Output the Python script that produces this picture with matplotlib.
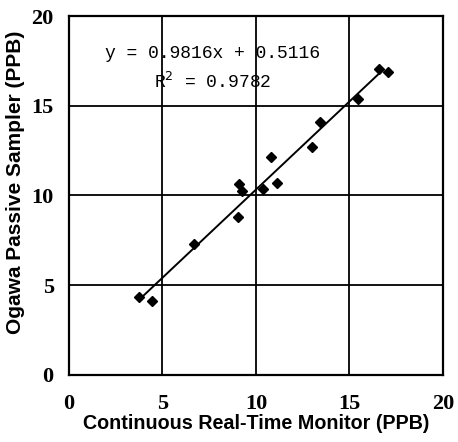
from matplotlib import pyplot as plt
import numpy as np

# Readings taken off the scanned chart
monitor = [3.76, 4.42, 6.68, 9.02, 9.09, 9.23, 10.39, 10.78, 11.1, 12.99, 13.4, 15.44, 16.6, 17.04]
passive = [4.35, 4.12, 7.28, 8.82, 10.62, 10.27, 10.36, 12.16, 10.71, 12.72, 14.08, 15.38, 17.05, 16.9]
slope, intercept, r2 = 0.9816, 0.5116, 0.9782
ticks = [0, 5, 10, 15, 20]

fig = plt.figure(figsize=(4.58, 4.42), dpi=100)
ax = fig.add_axes([0.1507, 0.1516, 0.8163, 0.8122])

ax.plot(monitor, passive, linestyle='none', marker='D', markersize=5.5,
        color='black', zorder=3)

xs = np.array([min(monitor) + 0.2, max(monitor) - 0.3])
ax.plot(xs, slope * xs + intercept, color='black', linewidth=1.4, zorder=3)

ax.set_xlim(0, 20)
ax.set_ylim(0, 20)
ax.set_xticks(ticks)
ax.set_yticks(ticks)
ax.grid(True, color='black', linewidth=1.3)
ax.tick_params(length=0, pad=14, labelsize=16)
ax.tick_params(axis='y', pad=11)
for lab in ax.get_xticklabels() + ax.get_yticklabels():
    lab.set_family('Liberation Serif')
    lab.set_fontweight('bold')
for sp in ax.spines.values():
    sp.set_linewidth(1.6)

ax.text(7.7, 17.9, "y = %.4fx + %.4f" % (slope, intercept), ha='center', va='center',
        family='Liberation Mono', fontsize=13)
ax.text(7.7, 16.3, "R$^2$ = %.4f" % r2, ha='center', va='center',
        family='Liberation Mono', fontsize=13)

ax.set_xlabel("Continuous Real-Time Monitor (PPB)", family='Liberation Sans',
              fontweight='bold', fontsize=14.2, labelpad=0)
ax.set_ylabel("Ogawa Passive Sampler (PPB)", family='Liberation Sans',
              fontweight='bold', fontsize=15)
ax.yaxis.set_label_coords(-0.118, 0.538)

fig.savefig("out.png", dpi=100)
